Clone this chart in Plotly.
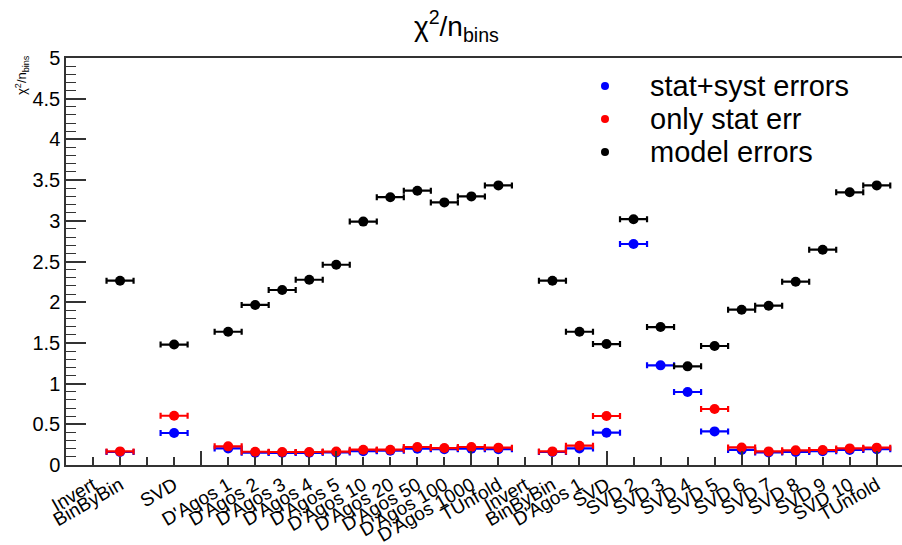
import plotly.graph_objects as go

# bin positions (1..30) and their labels
bins = list(range(1, 31))
labels = ["Invert", "BinByBin", "", "SVD", "", "D'Agos 1", "D'Agos 2", "D'Agos 3",
          "D'Agos 4", "D'Agos 5", "D'Agos 10", "D'Agos 20", "D'Agos 50", "D'Agos 100",
          "D'Agos 1000", "TUnfold", "Invert", "BinByBin", "D'Agos 1", "SVD", "SVD 2",
          "SVD 3", "SVD 4", "SVD 5", "SVD 6", "SVD 7", "SVD 8", "SVD 9", "SVD 10", "TUnfold"]

# chi2/nbins values per bin (None = not shown / off scale)
stat_syst = [None, 0.16, None, 0.393, None, 0.204, 0.152, 0.15, 0.15, 0.155, 0.17, 0.175,
             0.2, 0.195, 0.2, 0.195, None, 0.16, 0.204, 0.397, 2.715, 1.224, 0.897, 0.413,
             0.185, 0.155, 0.16, 0.17, 0.185, 0.195]
only_stat = [None, 0.167, None, 0.605, None, 0.229, 0.163, 0.16, 0.16, 0.165, 0.188, 0.188,
             0.221, 0.208, 0.221, 0.213, None, 0.167, 0.237, 0.602, None, None, None, 0.688,
             0.216, 0.167, 0.18, 0.184, 0.204, 0.213]
model = [None, 2.264, None, 1.48, None, 1.637, 1.966, 2.15, 2.276, 2.46, 2.99, 3.29,
         3.37, 3.226, 3.30, 3.435, None, 2.264, 1.637, 1.486, 3.02, 1.695, 1.212, 1.462,
         1.908, 1.957, 2.252, 2.645, 3.35, 3.435]

series = [("stat+syst errors", stat_syst, "#0000ff"),
          ("only stat err", only_stat, "#ff0000"),
          ("model errors", model, "#000000")]

FONT = "Liberation Sans, Arial, Helvetica, sans-serif"

# only the labelled bins get tick text
lab_vals = [b for b, t in zip(bins, labels) if t]
lab_text = [t for t in labels if t]

fig = go.Figure()
for name, vals, col in series:
    fig.add_trace(go.Scatter(
        x=bins, y=vals, mode="markers", name=name, showlegend=False,
        marker=dict(color=col, size=10),
        error_x=dict(type="constant", value=0.5, width=3, thickness=2.2, color=col),
    ))

# overlay axis carrying the tick marks (long every 5 bins, short every bin)
fig.add_trace(go.Scatter(x=[None], y=[None], xaxis="x2", yaxis="y", showlegend=False,
                         hoverinfo="skip"))

W, H = 902, 545
ML, MR, MT, MB = 66, 0, 58, 80
PW, PH = W - ML - MR, H - MT - MB
xr = [0, PW / 27.025]


def px(xpix):
    return (xpix - ML) / PW


def py(ypix):
    return 1 - (ypix - MT) / PH


# hand-built legend (ROOT style: small dot, large text)
leg_rows = [86, 119, 152]
shapes, annotations = [], []
for (name, _, col), yc in zip(series, leg_rows):
    r = 4
    shapes.append(dict(type="circle", xref="paper", yref="paper",
                       x0=px(605 - r), x1=px(605 + r), y0=py(yc + r), y1=py(yc - r),
                       fillcolor=col, line=dict(color=col, width=0)))
    annotations.append(dict(text=name, xref="paper", yref="paper", x=px(648), y=py(yc),
                            xanchor="left", yanchor="middle", showarrow=False,
                            font=dict(size=29, family=FONT, color="black")))

annotations.append(dict(text="χ<sup>2</sup>/n<sub>bins</sub>", textangle=-90,
                        xref="paper", yref="paper", x=px(22), xanchor="center",
                        y=py(53), yanchor="top", showarrow=False,
                        font=dict(size=13, family=FONT)))

fig.update_layout(
    width=W, height=H,
    margin=dict(l=ML, r=MR, t=MT, b=MB, autoexpand=False),
    paper_bgcolor="white", plot_bgcolor="white",
    font=dict(family=FONT, color="black"),
    showlegend=False,
    title=dict(text="χ<sup>2</sup>/n<sub>bins</sub>", x=0.506, xanchor="center",
               y=0.952, yanchor="middle", yref="container",
               font=dict(size=28, family=FONT)),
    xaxis=dict(range=xr, tickmode="array", tickvals=lab_vals, ticktext=lab_text,
               tickangle=-30, ticks="", showline=True, linecolor="#333", linewidth=1.5,
               mirror=True, showgrid=False, zeroline=False, automargin=False,
               tickfont=dict(size=19, family=FONT)),
    xaxis2=dict(range=xr, overlaying="x", side="bottom", anchor="y", tickmode="array",
                tickvals=[5, 10, 15, 20, 25, 30], ticks="inside", ticklen=14,
                tickwidth=1.5, tickcolor="#333", showticklabels=False, automargin=False,
                minor=dict(tickmode="array", tickvals=bins, ticks="inside", ticklen=8,
                           tickwidth=1.5, tickcolor="#333", showgrid=False),
                showgrid=False, zeroline=False, showline=False),
    yaxis=dict(range=[0, 5], tickmode="linear", tick0=0, dtick=0.5, ticks="inside",
               ticklen=20, tickwidth=1.5, tickcolor="#333", automargin=False,
               minor=dict(dtick=0.1, ticks="inside", ticklen=10, tickwidth=1.2,
                          tickcolor="#333", showgrid=False),
               showline=True, linecolor="#333", linewidth=1.5,
               showgrid=False, zeroline=False, tickfont=dict(size=20, family=FONT)),
    shapes=shapes,
    annotations=annotations,
)

fig.write_html("out.html")
